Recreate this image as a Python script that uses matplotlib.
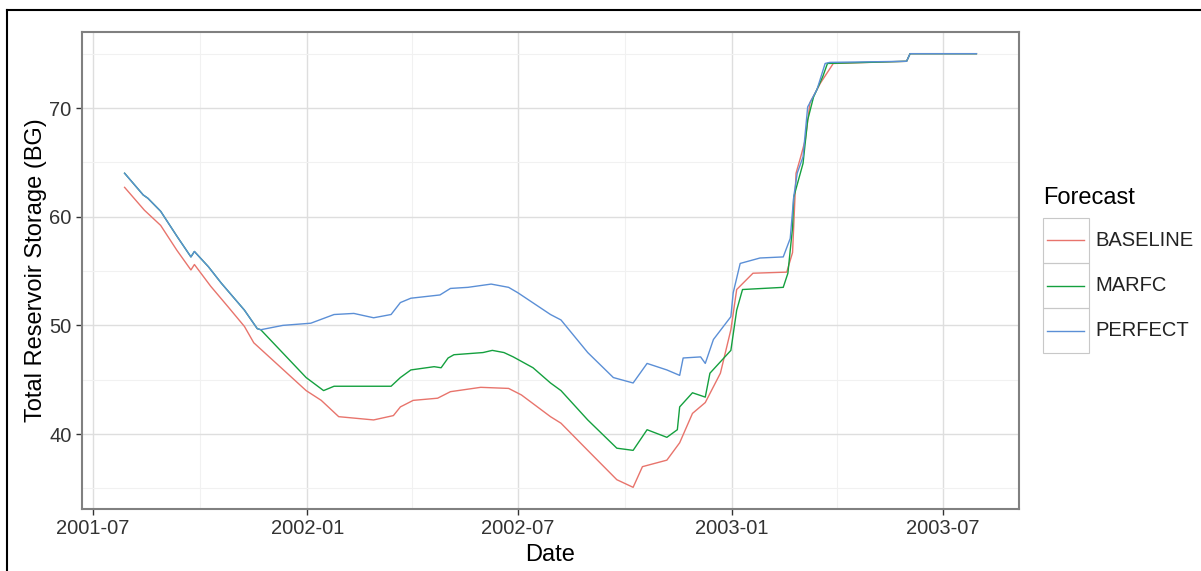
import numpy as np
import matplotlib
matplotlib.use("Agg")
import matplotlib.pyplot as plt
import matplotlib.dates as mdates
from matplotlib.lines import Line2D
from matplotlib.patches import Rectangle

plt.rcParams["font.family"] = ["Liberation Sans", "DejaVu Sans"]

# Total reservoir storage (BG) under each forecast scenario
perfect_dates = [
    "2001-07-28", "2001-08-13", "2001-08-17", "2001-08-28", "2001-09-11",
    "2001-09-23", "2001-09-26", "2001-10-08", "2001-10-19", "2001-11-08",
    "2001-11-19", "2001-11-22", "2001-12-11", "2002-01-04", "2002-01-24",
    "2002-02-10", "2002-02-27", "2002-03-14", "2002-03-22", "2002-03-31",
    "2002-04-25", "2002-05-04", "2002-05-19", "2002-06-08", "2002-06-23",
    "2002-07-01", "2002-07-29", "2002-08-07", "2002-08-30", "2002-09-21",
    "2002-10-08", "2002-10-20", "2002-11-06", "2002-11-17", "2002-11-20",
    "2002-12-05", "2002-12-09", "2002-12-16", "2002-12-31", "2003-01-02",
    "2003-01-08", "2003-01-25", "2003-02-14", "2003-02-20", "2003-02-23",
    "2003-02-26", "2003-03-03", "2003-03-07", "2003-03-15", "2003-03-22",
    "2003-03-26", "2003-05-31", "2003-06-03", "2003-07-30",
]
perfect = [
    64.0, 62.0, 61.7, 60.5, 58.2,
    56.3, 56.8, 55.4, 53.9, 51.4,
    49.7, 49.6, 50.0, 50.2, 51.0,
    51.1, 50.7, 51.0, 52.1, 52.5,
    52.8, 53.4, 53.5, 53.8, 53.5,
    53.0, 51.0, 50.5, 47.5, 45.2,
    44.7, 46.5, 45.9, 45.4, 47.0,
    47.1, 46.5, 48.7, 50.8, 53.0,
    55.7, 56.2, 56.3, 58.0, 61.8,
    64.0, 65.5, 70.1, 71.7, 74.1,
    74.2, 74.3, 75.0, 75.0,
]

marfc_dates = [
    "2001-07-28", "2001-08-13", "2001-08-17", "2001-08-28", "2001-09-11",
    "2001-09-23", "2001-09-26", "2001-10-08", "2001-10-19", "2001-11-08",
    "2001-11-19", "2001-11-22", "2001-12-31", "2002-01-15", "2002-01-24",
    "2002-03-14", "2002-03-22", "2002-03-31", "2002-04-20", "2002-04-26",
    "2002-05-02", "2002-05-07", "2002-06-01", "2002-06-09", "2002-06-19",
    "2002-06-27", "2002-07-14", "2002-07-29", "2002-08-07", "2002-08-30",
    "2002-09-24", "2002-10-08", "2002-10-20", "2002-11-06", "2002-11-15",
    "2002-11-17", "2002-11-28", "2002-12-09", "2002-12-13", "2002-12-31",
    "2003-01-05", "2003-01-10", "2003-02-14", "2003-02-18", "2003-02-22",
    "2003-02-23", "2003-03-03", "2003-03-07", "2003-03-12", "2003-03-20",
    "2003-03-24", "2003-05-31", "2003-06-03", "2003-07-30",
]
marfc = [
    64.0, 62.0, 61.7, 60.5, 58.2,
    56.3, 56.8, 55.4, 53.9, 51.4,
    49.7, 49.6, 45.2, 44.0, 44.4,
    44.4, 45.2, 45.9, 46.2, 46.1,
    47.0, 47.3, 47.5, 47.7, 47.5,
    47.1, 46.1, 44.7, 44.0, 41.3,
    38.7, 38.5, 40.4, 39.7, 40.4,
    42.5, 43.8, 43.4, 45.6, 47.7,
    51.4, 53.3, 53.5, 54.8, 59.0,
    61.8, 64.9, 68.9, 71.0, 72.9,
    74.1, 74.3, 75.0, 75.0,
]

baseline_dates = [
    "2001-07-28", "2001-08-14", "2001-08-28", "2001-09-11", "2001-09-23",
    "2001-09-26", "2001-10-10", "2001-10-25", "2001-11-08", "2001-11-16",
    "2001-12-31", "2002-01-13", "2002-01-28", "2002-02-27", "2002-03-16",
    "2002-03-22", "2002-04-02", "2002-04-23", "2002-05-04", "2002-05-30",
    "2002-06-23", "2002-07-04", "2002-07-29", "2002-08-07", "2002-08-30",
    "2002-09-24", "2002-10-08", "2002-10-16", "2002-11-06", "2002-11-17",
    "2002-11-28", "2002-12-09", "2002-12-22", "2002-12-31", "2003-01-05",
    "2003-01-19", "2003-02-17", "2003-02-22", "2003-02-25", "2003-03-01",
    "2003-03-05", "2003-03-09", "2003-03-18", "2003-03-29", "2003-05-31",
    "2003-06-03", "2003-07-30",
]
baseline = [
    62.7, 60.6, 59.2, 56.9, 55.1,
    55.6, 53.6, 51.7, 49.9, 48.4,
    44.0, 43.1, 41.6, 41.3, 41.7,
    42.5, 43.1, 43.3, 43.9, 44.3,
    44.2, 43.6, 41.6, 41.0, 38.5,
    35.8, 35.1, 37.0, 37.6, 39.2,
    41.9, 42.9, 45.6, 49.6, 53.3,
    54.8, 54.9, 56.7, 64.0, 65.5,
    67.1, 70.5, 72.3, 74.1, 74.3,
    75.0, 75.0,
]

series_names = ["BASELINE", "MARFC", "PERFECT"]
series_colors = ["#e8746c", "#14a03e", "#5b8fd6"]

x_major = ["2001-07-01", "2002-01-01", "2002-07-01", "2003-01-01", "2003-07-01"]
x_minor = ["2001-10-01", "2002-04-01", "2002-10-01", "2003-04-01"]
y_major = [40, 50, 60, 70]
y_minor = [35, 45, 55, 65, 75]

W, H = 1201, 571
fig = plt.figure(figsize=(W / 100, H / 100), dpi=100)
ax = fig.add_axes([82 / W, 1 - 509 / H, (1019 - 82) / W, (509 - 32) / H])

all_x = []
all_y = []
data = [(baseline_dates, baseline), (marfc_dates, marfc), (perfect_dates, perfect)]
for (d, v), name, col in zip(data, series_names, series_colors):
    d = np.array(d, dtype="datetime64[D]")
    ax.plot(d, v, color=col, lw=1.0, label=name)
    all_x.extend(mdates.date2num(d))
    all_y.extend(v)

# ggplot-style 5% expansion on both axes
x0, x1 = min(all_x), max(all_x)
y0, y1 = min(all_y), max(all_y)
ax.set_xlim(x0 - 0.05 * (x1 - x0), x1 + 0.05 * (x1 - x0))
ax.set_ylim(y0 - 0.05 * (y1 - y0), y1 + 0.05 * (y1 - y0))

ax.set_xticks(np.array(x_major, dtype="datetime64[D]"))
ax.set_xticklabels([s[:7] for s in x_major])
ax.set_xticks(np.array(x_minor, dtype="datetime64[D]"), minor=True)
ax.set_yticks(y_major)
ax.set_yticks(y_minor, minor=True)

ax.set_axisbelow(True)
ax.grid(which="major", color="#dedede", lw=1.0)
ax.grid(which="minor", color="#f1f1f1", lw=0.8)
for sp in ax.spines.values():
    sp.set_color("#808080")
    sp.set_linewidth(1.5)
ax.tick_params(which="major", length=4.5, width=1.0, color="#333333",
               labelsize=14.5, labelcolor="#333333", pad=3)
ax.tick_params(which="minor", length=0)

ax.set_xlabel("Date", fontsize=17)
ax.set_ylabel("Total Reservoir Storage (BG)", fontsize=17)
ax.xaxis.set_label_coords(0.5, (509 - 544) / 477)
ax.yaxis.set_label_coords((47 - 82) / 937, 0.5)

# legend drawn as ggplot-like keys
fig.text(1043 / W, 1 - 198 / H, "Forecast", fontsize=17, va="center", ha="left")
key_top, key_h = 218, 45
for i, (name, col) in enumerate(zip(series_names, series_colors)):
    top = key_top + key_h * i
    fig.add_artist(Rectangle((1043 / W, 1 - (top + key_h) / H), 46 / W, key_h / H,
                             transform=fig.transFigure, fill=False,
                             ec="#c8c8c8", lw=0.8))
    yc = 1 - (top + key_h / 2) / H
    fig.add_artist(Line2D([1047 / W, 1084 / W], [yc, yc], color=col, lw=1.0,
                          transform=fig.transFigure))
    fig.text(1095 / W, yc, name, fontsize=14.5, va="center", ha="left",
             color="#222222")

# outer frame lines on the left and top
fig.add_artist(Line2D([7 / W, 7 / W], [0, 1 - 10 / H], color="black", lw=1.5,
                      transform=fig.transFigure))
fig.add_artist(Line2D([7 / W, 1], [1 - 10 / H, 1 - 10 / H], color="black", lw=1.5,
                      transform=fig.transFigure))

fig.savefig("out.png", dpi=100)
